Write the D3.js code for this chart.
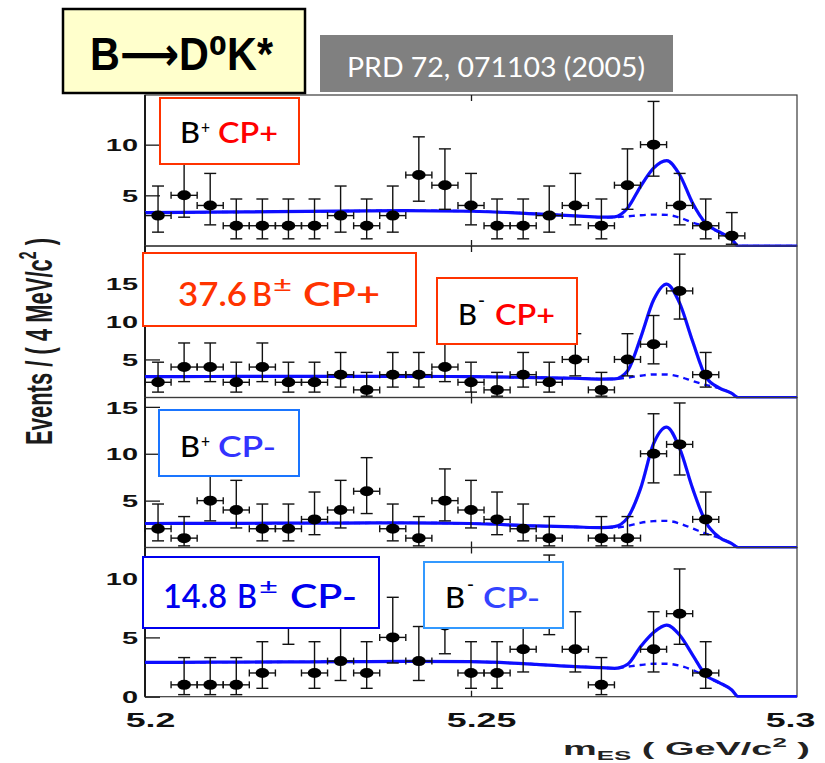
<!DOCTYPE html>
<html>
<head>
<meta charset="utf-8">
<script src="https://cdn.jsdelivr.net/npm/d3@7/dist/d3.min.js"></script>
<style>
  html, body { margin: 0; padding: 0; background: #fff; }
  svg { display: block; }
</style>
</head>
<body>
<svg id="chart" width="825" height="763"></svg>
<script>
// m_ES bin centres, 4 MeV/c^2 bins between 5.20 and 5.30 GeV/c^2
const mesBinCenters = [5.202, 5.206, 5.210, 5.214, 5.218, 5.222, 5.226, 5.230, 5.234, 5.238,
                       5.242, 5.246, 5.250, 5.254, 5.258, 5.262, 5.266, 5.270, 5.274, 5.278,
                       5.282, 5.286, 5.290, 5.294, 5.298];

// events per bin for the four sub-samples
const countsBplusCPplus   = [3, 5, 4, 2, 2, 2, 2, 3, 2, 3, 7, 6, 4, 2, 2, 3, 4, 2, 6, 10, 4, 2, 1, 0, 0];
const countsBminusCPplus  = [2, 4, 4, 2, 4, 2, 2, 3, 1, 3, 3, 4, 2, 1, 3, 2, 5, 1, 5, 7, 14, 3, 0, 0, 0];
const countsBplusCPminus  = [2, 1, 5, 4, 2, 2, 3, 4, 6, 2, 1, 5, 4, 3, 2, 1, 0, 1, 1, 10, 11, 3, 0, 0, 0];
const countsBminusCPminus = [0, 1, 1, 1, 2, 7, 2, 3, 2, 5, 3, 6, 2, 2, 4, 8, 4, 1, 0, 4, 7, 2, 0, 0, 0];

// 68.3% central Poisson interval (lower / upper) for n = 0..14 events
const poissonErrLow  = [0, 0.827, 1.292, 1.633, 1.914, 2.159, 2.379, 2.580, 2.768, 2.943, 3.108, 3.265, 3.415, 3.559, 3.697];
const poissonErrHigh = [1.148, 2.299, 2.637, 2.918, 3.162, 3.382, 3.583, 3.770, 3.944, 4.110, 4.266, 4.416, 4.559, 4.697, 4.830];

// fit projections: total PDF (solid) and background component (dashed)
const fitMes = [5.200, 5.210, 5.220, 5.230, 5.240, 5.250, 5.260, 5.266, 5.270, 5.272, 5.274,
                5.276, 5.278, 5.280, 5.282, 5.284, 5.286, 5.288, 5.290, 5.291, 5.300];
const fitTotalBplusCPplus   = [3.30, 3.34, 3.39, 3.44, 3.49, 3.43, 3.17, 2.97, 2.84, 2.88, 3.73, 5.87, 7.69, 8.43, 7.03, 4.22, 2.24, 1.41, 0.66, 0, 0];
const fitBkgBplusCPplus     = [3.30, 3.34, 3.39, 3.44, 3.49, 3.43, 3.17, 2.97, 2.84, 2.84, 2.93, 3.03, 3.10, 3.07, 2.80, 2.31, 1.92, 1.38, 0.66, 0, 0];
const fitTotalBminusCPplus  = [2.75, 2.76, 2.77, 2.77, 2.77, 2.74, 2.61, 2.53, 2.42, 2.44, 3.49, 7.80, 12.8, 14.9, 12.4, 7.35, 2.74, 1.29, 0.54, 0, 0];
const fitBkgBminusCPplus    = [2.75, 2.76, 2.77, 2.77, 2.77, 2.74, 2.61, 2.53, 2.42, 2.44, 2.61, 2.86, 3.03, 3.03, 2.73, 2.17, 1.65, 1.22, 0.54, 0, 0];
const fitTotalBplusCPminus  = [2.56, 2.57, 2.59, 2.61, 2.63, 2.56, 2.30, 2.19, 2.12, 2.22, 3.16, 6.28, 11.07, 12.85, 10.57, 6.28, 2.73, 1.13, 0.42, 0, 0];
const fitBkgBplusCPminus    = [2.56, 2.57, 2.59, 2.61, 2.63, 2.56, 2.30, 2.19, 2.12, 2.12, 2.30, 2.63, 2.81, 2.84, 2.56, 2.03, 1.48, 1.04, 0.42, 0, 0];
const fitTotalBminusCPminus = [2.89, 2.91, 2.93, 2.95, 2.98, 2.95, 2.73, 2.53, 2.45, 2.39, 2.73, 4.22, 5.42, 6.04, 5.20, 3.51, 1.83, 1.21, 0.57, 0, 0];
const fitBkgBminusCPminus   = [2.89, 2.91, 2.93, 2.95, 2.98, 2.95, 2.73, 2.53, 2.45, 2.39, 2.53, 2.67, 2.78, 2.78, 2.61, 2.25, 1.72, 1.16, 0.57, 0, 0];

// axis ticks
const yTicksBplusCPplus   = [5, 10];
const yTicksBminusCPplus  = [5, 10, 15];
const yTicksBplusCPminus  = [5, 10, 15];
const yTicksBminusCPminus = [0, 5, 10];
const xTickValues = [5.2, 5.25, 5.3];
const xTickLabels = ["5.2", "5.25", "5.3"];

// ---------------------------------------------------------------------------
const svg = d3.select("#chart");
const W = 825, H = 763;
svg.append("rect").attr("width", W).attr("height", H).attr("fill", "#fff");

const plotLeft = 145, plotRight = 797;
const x = d3.scaleLinear().domain([5.2, 5.3]).range([plotLeft, plotRight]);
const STRETCH = 1.7;   // the ROOT lettering is drawn horizontally widened

const panels = [
  { counts: countsBplusCPplus,   total: fitTotalBplusCPplus,   bkg: fitBkgBplusCPplus,   ticks: yTicksBplusCPplus,   top: 95,    bottom: 246,   yMax: 14.9 },
  { counts: countsBminusCPplus,  total: fitTotalBminusCPplus,  bkg: fitBkgBminusCPplus,  ticks: yTicksBminusCPplus,  top: 246,   bottom: 397.5, yMax: 19.9 },
  { counts: countsBplusCPminus,  total: fitTotalBplusCPminus,  bkg: fitBkgBplusCPminus,  ticks: yTicksBplusCPminus,  top: 397.5, bottom: 547.5, yMax: 16.0 },
  { counts: countsBminusCPminus, total: fitTotalBminusCPminus, bkg: fitBkgBminusCPminus, ticks: yTicksBminusCPminus, top: 547.5, bottom: 696.7, yMax: 12.58 }
];

const defs = svg.append("defs");
const blur = defs.append("filter").attr("id", "soft").attr("x", "-5%").attr("y", "-20%").attr("width", "110%").attr("height", "140%");
blur.append("feGaussianBlur").attr("stdDeviation", 0.45);

function stretchText(sel, factor) {
  sel.each(function () {
    const len = this.getComputedTextLength();
    d3.select(this).attr("textLength", len * factor).attr("lengthAdjust", "spacingAndGlyphs");
  });
}

panels.forEach((p, i) => {
  const y = d3.scaleLinear().domain([0, p.yMax]).range([p.bottom, p.top]);
  const g = svg.append("g").attr("class", "panel-" + i);

  const clipId = "clip" + i;
  defs.append("clipPath").attr("id", clipId)
    .append("rect").attr("x", plotLeft).attr("y", p.top - 1)
    .attr("width", plotRight - plotLeft).attr("height", p.bottom - p.top + 2);

  // frame
  g.append("rect")
    .attr("x", plotLeft).attr("y", p.top)
    .attr("width", plotRight - plotLeft).attr("height", p.bottom - p.top)
    .attr("fill", "none").attr("stroke", "#3a3a3a").attr("stroke-width", 1.2);
  g.append("line")
    .attr("x1", plotLeft).attr("x2", plotLeft).attr("y1", p.top).attr("y2", p.bottom)
    .attr("stroke", "#1a1a1a").attr("stroke-width", 2);

  // y axis (ticks pointing into the frame)
  const yAxis = d3.axisLeft(y).tickValues(p.ticks).tickSize(-15).tickPadding(7).tickFormat(d3.format("d"));
  const ya = g.append("g").attr("transform", `translate(${plotLeft},0)`).call(yAxis);
  ya.select(".domain").remove();
  ya.selectAll(".tick line").attr("stroke", "#1a1a1a").attr("stroke-width", 1.3);
  ya.selectAll(".tick text")
    .attr("fill", "#111").attr("font-family", "'Liberation Sans', Arial, sans-serif")
    .attr("font-weight", "bold").attr("font-size", 17).attr("dy", "0.36em")
    .call(stretchText, STRETCH);

  // x ticks on both edges of every panel
  const xb = g.append("g").attr("transform", `translate(0,${p.bottom})`)
    .call(d3.axisBottom(x).tickValues([5.25]).tickSize(-6).tickFormat(""));
  xb.select(".domain").remove();
  xb.selectAll(".tick line").attr("stroke", "#1a1a1a").attr("stroke-width", 1.3);
  const xt = g.append("g").attr("transform", `translate(0,${p.top})`)
    .call(d3.axisTop(x).tickValues([5.25]).tickSize(-6).tickFormat(""));
  xt.select(".domain").remove();
  xt.selectAll(".tick line").attr("stroke", "#1a1a1a").attr("stroke-width", 1.3);

  // fit curves
  const curveG = g.append("g").attr("clip-path", `url(#${clipId})`).attr("filter", "url(#soft)");
  const line = d3.line().x((d, k) => x(fitMes[k])).y(d => y(d)).curve(d3.curveMonotoneX);
  curveG.append("path").datum(p.bkg).attr("d", line)
    .attr("fill", "none").attr("stroke", "#1010ff").attr("stroke-width", 2.4)
    .attr("stroke-dasharray", "6,5");
  curveG.append("path").datum(p.total).attr("d", line)
    .attr("fill", "none").attr("stroke", "#0a0aff").attr("stroke-width", 3.2)
    .attr("stroke-linejoin", "round");

  // data points with Poisson error bars
  const pts = p.counts.map((n, k) => ({ m: mesBinCenters[k], n })).filter(d => d.n > 0);
  const halfBin = (x(5.204) - x(5.2)) / 2;
  const dg = g.append("g").attr("stroke", "#111").attr("stroke-width", 1.4).attr("fill", "none");
  pts.forEach(d => {
    const cx = x(d.m), cy = y(d.n);
    const yHi = y(d.n + poissonErrHigh[d.n]), yLo = y(d.n - poissonErrLow[d.n]);
    dg.append("line").attr("x1", cx).attr("x2", cx).attr("y1", yHi).attr("y2", yLo);
    dg.append("line").attr("x1", cx - 6).attr("x2", cx + 6).attr("y1", yHi).attr("y2", yHi);
    dg.append("line").attr("x1", cx - 6).attr("x2", cx + 6).attr("y1", yLo).attr("y2", yLo);
    dg.append("line").attr("x1", cx - halfBin).attr("x2", cx + halfBin).attr("y1", cy).attr("y2", cy);
    dg.append("line").attr("x1", cx - halfBin).attr("x2", cx - halfBin).attr("y1", cy - 3.5).attr("y2", cy + 3.5);
    dg.append("line").attr("x1", cx + halfBin).attr("x2", cx + halfBin).attr("y1", cy - 3.5).attr("y2", cy + 3.5);
    g.append("ellipse").attr("cx", cx).attr("cy", cy).attr("rx", 6.8).attr("ry", 5)
      .attr("fill", "#000");
  });
});

// x axis labels under the last panel
const lastBottom = panels[panels.length - 1].bottom;
const xAxisG = svg.append("g").attr("transform", `translate(0,${lastBottom})`)
  .call(d3.axisBottom(x).tickValues(xTickValues).tickSize(0).tickPadding(16)
        .tickFormat((d, k) => xTickLabels[k]));
xAxisG.select(".domain").remove();
xAxisG.selectAll(".tick text")
  .attr("fill", "#111").attr("font-family", "'Liberation Sans', Arial, sans-serif")
  .attr("font-weight", "bold").attr("font-size", 21).attr("dy", "0.7em")
  .attr("dx", (d, k) => [5, 10, -7][k])
  .call(stretchText, STRETCH);

// axis titles
const xTitle = svg.append("text")
  .attr("x", 563).attr("y", 755)
  .attr("font-family", "'Liberation Sans', Arial, sans-serif").attr("font-weight", "bold")
  .attr("font-size", 19).attr("fill", "#222");
xTitle.append("tspan").text("m");
xTitle.append("tspan").attr("font-size", 13).attr("dy", 5).text("ES");
xTitle.append("tspan").attr("dy", -5).text(" (  GeV/c");
xTitle.append("tspan").attr("font-size", 13).attr("dy", -8).text("2");
xTitle.append("tspan").attr("dy", 8).text("  )");
xTitle.attr("textLength", 247).attr("lengthAdjust", "spacingAndGlyphs");

const yTitle = svg.append("text")
  .attr("transform", `translate(51.5,341.5) scale(${STRETCH},1) rotate(-90)`)
  .attr("text-anchor", "middle")
  .attr("font-family", "'Liberation Sans', Arial, sans-serif")
  .attr("font-weight", "bold")
  .attr("font-size", 22).attr("fill", "#1a1a1a")
  .attr("textLength", 207).attr("lengthAdjust", "spacingAndGlyphs");
yTitle.append("tspan").text("Events / ( 4 MeV/c");
yTitle.append("tspan").attr("font-size", 14).attr("dy", -9).text("2");
yTitle.append("tspan").attr("dy", 9).text(" )");

// ---------------------------------------------------------------------------
// sample labels
function piece(parent, str, px, py, size, color, width, weight) {
  const t = parent.append("text")
    .attr("x", px).attr("y", py)
    .attr("font-family", "Lato, 'Open Sans', sans-serif")
    .attr("font-size", size).attr("font-weight", weight || 500)
    .attr("fill", color).text(str);
  if (width) t.attr("textLength", width).attr("lengthAdjust", "spacingAndGlyphs");
  return t;
}
function box(parent, bx, by, bw, bh, color) {
  parent.append("rect").attr("x", bx).attr("y", by).attr("width", bw).attr("height", bh)
    .attr("fill", "#fff").attr("stroke", color).attr("stroke-width", 2);
}
const lab = svg.append("g");

// B+ CP+
box(lab, 160, 98, 139, 66, "#ff3300");
piece(lab, "B", 180, 143, 29, "#000", 20, 500);
piece(lab, "+", 201, 134, 17, "#000", 9, 500);
piece(lab, "CP+", 218, 143, 29, "#ff0000", 60, 600);

// 37.6 B± CP+
box(lab, 143, 253, 273, 73, "#ff3300");
piece(lab, "37.6", 178, 305.5, 33, "#ff3300", 69, 600);
piece(lab, "B", 252, 305.5, 33, "#ff3300", 20, 600);
piece(lab, "±", 273, 292, 21, "#ff3300", 19, 500);
piece(lab, "CP+", 303, 305.5, 33, "#ff3300", 77, 600);

// B- CP+
box(lab, 437, 278, 140, 66, "#ff3300");
piece(lab, "B", 458, 325, 29, "#000", 19, 500);
piece(lab, "-", 478, 306, 18, "#000", 7, 600);
piece(lab, "CP+", 495, 325, 29, "#ff0000", 60, 600);

// B+ CP-
box(lab, 159, 410, 140, 66, "#1a75ff");
piece(lab, "B", 180, 457, 29, "#000", 20, 500);
piece(lab, "+", 201, 448, 17, "#000", 9, 500);
piece(lab, "CP-", 218, 457, 29, "#3333ff", 58, 600);

// 14.8 B± CP-
box(lab, 143, 557, 236, 71, "#0000ee");
piece(lab, "14.8", 163, 608, 33, "#0000ee", 64, 600);
piece(lab, "B", 237, 608, 33, "#0000ee", 20, 600);
piece(lab, "±", 259, 594, 21, "#0000ee", 19, 500);
piece(lab, "CP-", 290, 608, 33, "#0000ee", 67, 600);

// B- CP-
box(lab, 424, 562, 139, 66, "#3399ff");
piece(lab, "B", 445, 608, 29, "#000", 20, 500);
piece(lab, "-", 467, 590, 18, "#000", 7, 600);
piece(lab, "CP-", 483, 608, 29, "#3344ff", 57, 600);

// ---------------------------------------------------------------------------
// title and reference
const head = svg.append("g");
head.append("rect").attr("x", 63).attr("y", 9).attr("width", 242).attr("height", 84)
  .attr("fill", "#ffffcc").attr("stroke", "#000").attr("stroke-width", 2.5);

// decay title as a single run of text
head.append("text").attr("x", 90).attr("y", 70)
  .attr("font-family", "'Liberation Sans', 'DejaVu Sans', Arial, sans-serif").attr("font-weight", "bold")
  .attr("font-size", 46).attr("fill", "#000")
  .attr("textLength", 183).attr("lengthAdjust", "spacingAndGlyphs")
  .text("B\u27F6D\u2070K*");

head.append("rect").attr("x", 320).attr("y", 35).attr("width", 353).attr("height", 57)
  .attr("fill", "#808080");
head.append("text").attr("x", 347).attr("y", 77)
  .attr("font-family", "Lato, 'Open Sans', sans-serif").attr("font-size", 26)
  .attr("fill", "#fff").attr("textLength", 298).attr("lengthAdjust", "spacingAndGlyphs")
  .text("PRD 72, 071103 (2005)");
</script>
</body>
</html>
